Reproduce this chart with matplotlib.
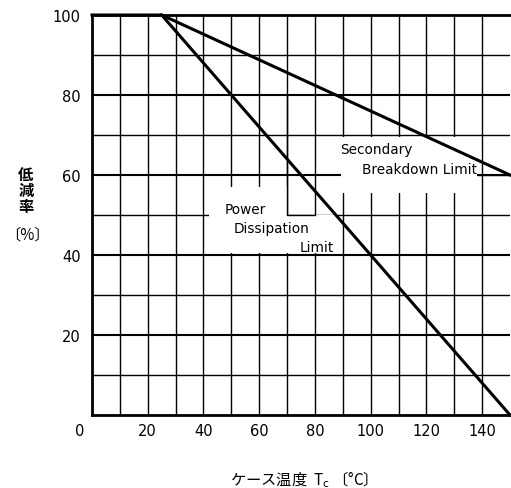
import numpy as np
import matplotlib.pyplot as plt
from matplotlib.patches import Polygon

plt.rcParams['font.family'] = ['Noto Sans CJK JP', 'DejaVu Sans']

# derating curves (case temperature vs derating %)
temp_pd = [0, 25, 150]
derate_pd = [100, 100, 0]
temp_sb = [25, 150]
derate_sb = [100, 60]

x_ticks = [20, 40, 60, 80, 100, 120, 140]
y_ticks = [20, 40, 60, 80, 100]

fig = plt.figure(figsize=(5.11, 4.89), dpi=100)
ax = fig.add_axes([92 / 511, 1 - 416 / 489, 418 / 511, 400 / 489])
ax.set_xlim(0, 150)
ax.set_ylim(0, 100)

# grid
for gx in range(10, 150, 10):
    ax.axvline(gx, color='black', lw=1.0, zorder=1)
for gy in range(10, 100, 10):
    ax.axhline(gy, color='black', lw=1.5 if gy % 20 == 0 else 1.0, zorder=1)

# white areas behind the labels
ax.add_patch(Polygon([(42, 40.5), (88, 40.5), (88, 50), (70, 50), (70, 57), (42, 57)],
                     closed=True, facecolor='white', edgecolor='none', zorder=2))
ax.add_patch(Polygon([(89.5, 55.5), (138, 55.5), (138, 69.5), (89.5, 69.5)],
                     closed=True, facecolor='white', edgecolor='none', zorder=2))
ax.plot([70, 70, 80], [80, 50, 50], color='black', lw=1.0, zorder=2.5)
ax.plot([138.5, 150], [60, 60], color='black', lw=1.0, zorder=2.5)

ax.plot(temp_pd, derate_pd, color='black', lw=2.2, zorder=3, clip_on=False)
ax.plot(temp_sb, derate_sb, color='black', lw=2.2, zorder=3, clip_on=False)

lab = dict(fontsize=9.8, va='center', family='DejaVu Sans', zorder=4)
ax.text(102, 66.5, 'Secondary', ha='center', **lab)
ax.text(138, 61.5, 'Breakdown Limit', ha='right', **lab)
ax.text(55, 51.5, 'Power', ha='center', **lab)
ax.text(64.5, 46.7, 'Dissipation', ha='center', **lab)
ax.text(80.6, 42, 'Limit', ha='center', **lab)

for side in ['left', 'bottom', 'top']:
    ax.spines[side].set_linewidth(2)
ax.spines['right'].set_visible(False)

ax.set_xticks(x_ticks)
ax.set_yticks(y_ticks)
ax.tick_params(length=0, labelsize=10.5)
ax.tick_params(axis='x', pad=6)
ax.tick_params(axis='y', pad=8)
ax.set_xticklabels([str(v) for v in x_ticks], family='DejaVu Sans')
ax.set_yticklabels([str(v) for v in y_ticks], family='DejaVu Sans')
ax.text(-4.3, -3.8, '0', fontsize=10.5, ha='center', va='center', family='DejaVu Sans')

fig.text(26 / 511, 1 - 191 / 489, '低\n減\n率', fontsize=11, ha='center', va='center',
         linespacing=1.0, fontweight='bold')
fig.text(27 / 511, 1 - 235 / 489, '〔%〕', fontsize=11, ha='center', va='center')
fig.text(300 / 511, 1 - 480 / 489, 'ケース温度  T$_\\mathrm{c}$ 〔°C〕', fontsize=11,
         ha='center', va='center')

fig.savefig('out.png', dpi=100)
